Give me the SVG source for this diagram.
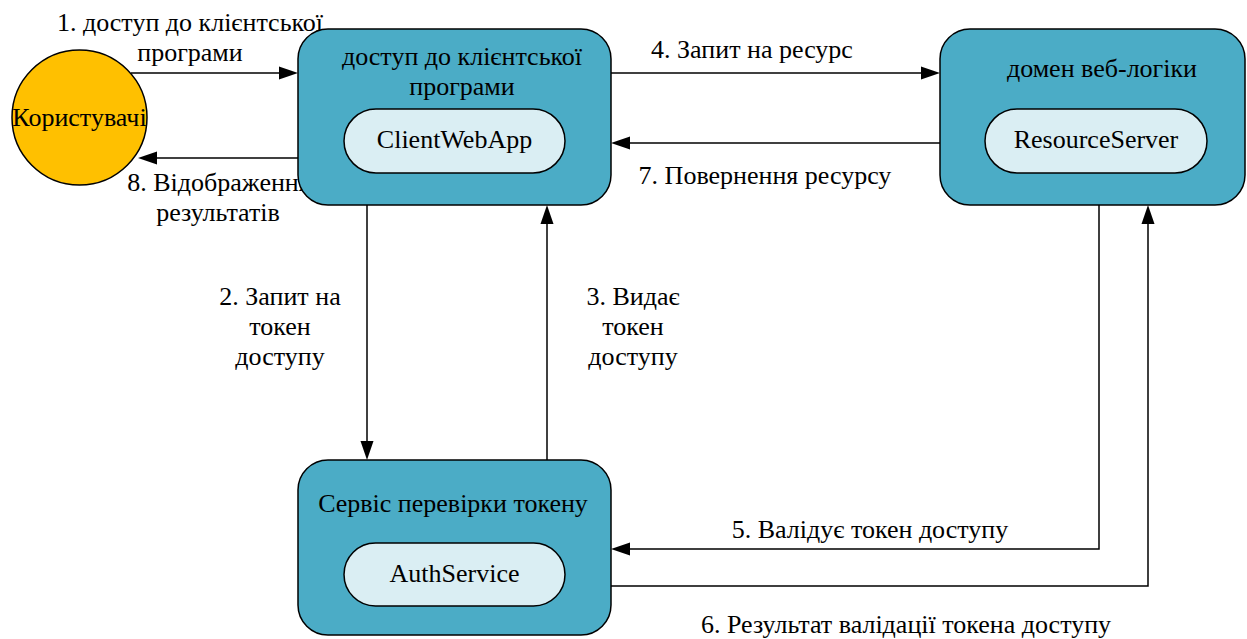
<svg xmlns="http://www.w3.org/2000/svg" width="1247" height="639" viewBox="0 0 1247 639">
<rect width="1247" height="639" fill="#fff"/>
<g id="connectors">
<g fill="none" stroke="#000" stroke-width="1.5">
<line x1="131" y1="73" x2="280" y2="73"/>
<line x1="298" y1="158" x2="156" y2="158"/>
<line x1="611" y1="73" x2="922" y2="73"/>
<line x1="940" y1="143" x2="629" y2="143"/>
<line x1="367" y1="205" x2="367" y2="442"/>
<line x1="547" y1="460" x2="547" y2="223"/>
<polyline points="1099,205 1099,549 629,549"/>
<polyline points="611,586 1148,586 1148,223"/>
</g>
<g fill="#000" stroke="none">
<polygon points="298,73 279,66.5 279,79.5"/>
<polygon points="138,158 157,151.5 157,164.5"/>
<polygon points="940,73 921,66.5 921,79.5"/>
<polygon points="611,143 630,136.5 630,149.5"/>
<polygon points="367,460 360.5,441 373.5,441"/>
<polygon points="547,205 540.5,224 553.5,224"/>
<polygon points="611,549 630,542.5 630,555.5"/>
<polygon points="1148,205 1141.5,224 1154.5,224"/>
</g>
<text x="190" y="31" text-anchor="middle" font-size="26" font-family="Liberation Serif">1. доступ до клієнтської</text>
<text x="190" y="61" text-anchor="middle" font-size="26" font-family="Liberation Serif">програми</text>
<text x="219" y="191" text-anchor="middle" font-size="26" font-family="Liberation Serif">8. Відображення</text>
<text x="218" y="221" text-anchor="middle" font-size="26" font-family="Liberation Serif">результатів</text>
<text x="752" y="58" text-anchor="middle" font-size="26" font-family="Liberation Serif">4. Запит на ресурс</text>
<text x="765" y="184" text-anchor="middle" font-size="26" font-family="Liberation Serif">7. Повернення ресурсу</text>
<text x="280" y="305" text-anchor="middle" font-size="26" font-family="Liberation Serif">2. Запит на</text>
<text x="280" y="335" text-anchor="middle" font-size="26" font-family="Liberation Serif">токен</text>
<text x="280" y="365" text-anchor="middle" font-size="26" font-family="Liberation Serif">доступу</text>
<text x="633" y="305" text-anchor="middle" font-size="26" font-family="Liberation Serif">3. Видає</text>
<text x="633" y="335" text-anchor="middle" font-size="26" font-family="Liberation Serif">токен</text>
<text x="633" y="365" text-anchor="middle" font-size="26" font-family="Liberation Serif">доступу</text>
<text x="870" y="538" text-anchor="middle" font-size="26" font-family="Liberation Serif">5. Валідує токен доступу</text>
<text x="906" y="633" text-anchor="middle" font-size="26" font-family="Liberation Serif">6. Результат валідації токена доступу</text>
</g>
<g id="users">
<circle cx="79.5" cy="117.5" r="67.5" fill="#FFC000" stroke="#000" stroke-width="1.5"/>
<text x="79.5" y="126" text-anchor="middle" font-size="26" font-family="Liberation Serif">Користувачі</text>
</g>
<g id="client">
<rect x="298" y="29" width="313" height="176" rx="30" fill="#4BACC6" stroke="#000" stroke-width="1.5"/>
<text x="462" y="65" text-anchor="middle" font-size="26" font-family="Liberation Serif">доступ до клієнтської</text>
<text x="462" y="95" text-anchor="middle" font-size="26" font-family="Liberation Serif">програми</text>
</g>
<g id="clientwebapp">
<rect x="344" y="109" width="221" height="64" rx="32" fill="#DAEEF3" stroke="#000" stroke-width="1.5"/>
<text x="454.5" y="148" text-anchor="middle" font-size="26" font-family="Liberation Serif">ClientWebApp</text>
</g>
<g id="resource">
<rect x="940" y="29" width="305" height="176" rx="30" fill="#4BACC6" stroke="#000" stroke-width="1.5"/>
<text x="1102" y="77" text-anchor="middle" font-size="26" font-family="Liberation Serif">домен веб-логіки</text>
</g>
<g id="resourceserver">
<rect x="985" y="109" width="222" height="64" rx="32" fill="#DAEEF3" stroke="#000" stroke-width="1.5"/>
<text x="1096" y="148" text-anchor="middle" font-size="26" font-family="Liberation Serif">ResourceServer</text>
</g>
<g id="auth">
<rect x="298" y="460" width="313" height="175" rx="30" fill="#4BACC6" stroke="#000" stroke-width="1.5"/>
<text x="453" y="512" text-anchor="middle" font-size="26" font-family="Liberation Serif">Сервіс перевірки токену</text>
</g>
<g id="authservice">
<rect x="344" y="543" width="221" height="63" rx="31.5" fill="#DAEEF3" stroke="#000" stroke-width="1.5"/>
<text x="454.5" y="582" text-anchor="middle" font-size="26" font-family="Liberation Serif">AuthService</text>
</g>
</svg>
